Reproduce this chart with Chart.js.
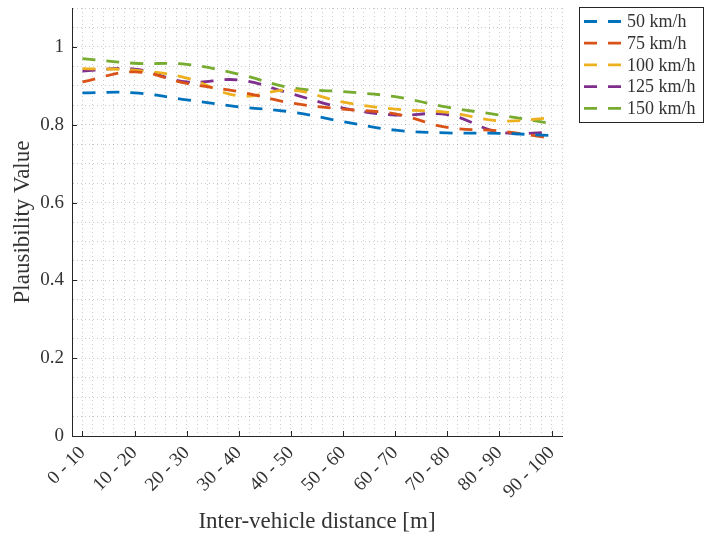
<!DOCTYPE html>
<html>
<head>
<meta charset="utf-8">
<script src="https://cdn.jsdelivr.net/npm/chart.js@4"></script>
<style>
  html, body { margin: 0; padding: 0; background: #fff; }
  #wrap { width: 704px; height: 538px; }
</style>
</head>
<body>
<div id="wrap"><canvas id="c" width="704" height="538"></canvas></div>
<script>
// Distance bins along the x axis
const distanceBins = ['0 - 10', '10 - 20', '20 - 30', '30 - 40', '40 - 50',
                      '50 - 60', '60 - 70', '70 - 80', '80 - 90', '90 - 100'];

// Plausibility per speed
const speed50  = [0.882, 0.882, 0.864, 0.846, 0.833, 0.808, 0.786, 0.779, 0.778, 0.772];
const speed75  = [0.910, 0.936, 0.906, 0.885, 0.856, 0.840, 0.828, 0.793, 0.784, 0.765];
const speed100 = [0.944, 0.940, 0.920, 0.874, 0.889, 0.858, 0.840, 0.832, 0.810, 0.818];
const speed125 = [0.938, 0.943, 0.910, 0.915, 0.880, 0.843, 0.825, 0.826, 0.781, 0.780];
const speed150 = [0.970, 0.958, 0.955, 0.930, 0.895, 0.885, 0.872, 0.845, 0.825, 0.803];

const seriesLabels = ['50 km/h', '75 km/h', '100 km/h', '125 km/h', '150 km/h'];
const seriesColors = ['#0072BD', '#D95319', '#EDB120', '#7E2F8E', '#77AC30'];
const seriesValues = [speed50, speed75, speed100, speed125, speed150];

// Y tick labels shown on the major positions
const yTickLabels = ['0', '0.2', '0.4', '0.6', '0.8', '1'];

const SERIF = '"Liberation Serif", "DejaVu Serif", serif';
const TEXT = '#333333';
const DASH = [13, 11];
const GRID = 'rgba(0,0,0,0.2)';

const datasets = seriesValues.map((vals, i) => ({
  label: seriesLabels[i],
  data: vals.map((v, k) => ({ x: k + 1, y: v })),
  borderColor: seriesColors[i],
  backgroundColor: seriesColors[i],
  borderWidth: 2.8,
  borderDash: DASH,
  borderCapStyle: 'butt',
  pointRadius: 0,
  pointHoverRadius: 0,
  tension: 0.4,
  fill: false
}));

const near = (v, t) => Math.abs(v - t) < 1e-6;

// Short inward tick marks on the two axis lines
const innerTicks = {
  id: 'innerTicks',
  afterDatasetsDraw(chart) {
    const { ctx, chartArea: a, scales: { x, y } } = chart;
    ctx.save();
    ctx.strokeStyle = '#262626';
    ctx.lineWidth = 1;
    ctx.beginPath();
    for (let k = 1; k <= distanceBins.length; k++) {
      const px = Math.round(x.getPixelForValue(k)) + 0.5;
      ctx.moveTo(px, a.bottom);
      ctx.lineTo(px, a.bottom - 5);
    }
    for (let j = 0; j < yTickLabels.length; j++) {
      const py = Math.round(y.getPixelForValue(j * 0.2)) + 0.5;
      ctx.moveTo(a.left, py);
      ctx.lineTo(a.left + 5, py);
    }
    ctx.stroke();
    ctx.restore();
  }
};

// Boxed legend to the right of the axes
const boxLegend = {
  id: 'boxLegend',
  afterDraw(chart) {
    const { ctx } = chart;
    const left = 579.5, top = 7.5, w = 124, h = 115;
    ctx.save();
    ctx.fillStyle = '#fff';
    ctx.fillRect(left, top, w, h);
    ctx.strokeStyle = '#262626';
    ctx.lineWidth = 1;
    ctx.strokeRect(left, top, w, h);
    ctx.font = '18px ' + SERIF;
    ctx.textBaseline = 'middle';
    ctx.textAlign = 'left';
    chart.data.datasets.forEach((ds, i) => {
      const cy = 21.5 + i * 21.7;
      ctx.strokeStyle = ds.borderColor;
      ctx.lineWidth = 2.8;
      ctx.setLineDash(DASH);
      ctx.beginPath();
      ctx.moveTo(584, cy);
      ctx.lineTo(621, cy);
      ctx.stroke();
      ctx.setLineDash([]);
      ctx.fillStyle = TEXT;
      ctx.fillText(ds.label, 627, cy + 1);
    });
    ctx.restore();
  }
};

new Chart(document.getElementById('c'), {
  type: 'line',
  data: { datasets },
  plugins: [innerTicks, boxLegend],
  options: {
    responsive: false,
    animation: false,
    layout: { padding: { top: 8, right: 142, left: 0, bottom: 0 } },
    plugins: { legend: { display: false }, tooltip: { enabled: false } },
    scales: {
      x: {
        type: 'linear',
        min: 0.8,
        max: 10.2,
        afterBuildTicks(scale) {
          const t = [];
          for (let i = 4; i <= 51; i++) t.push({ value: i / 5 });
          scale.ticks = t;
        },
        afterFit(scale) {
          scale.height = 102;
          scale.paddingLeft = 0;
          scale.paddingRight = 0;
        },
        border: { display: true, color: '#262626', width: 1, dash: [1, 3] },
        grid: { color: GRID, lineWidth: 1, drawTicks: false, tickLength: 0 },
        ticks: {
          autoSkip: false,
          minRotation: 45,
          maxRotation: 45,
          padding: 6,
          color: TEXT,
          font: { family: SERIF, size: 19 },
          callback(v) {
            const r = Math.round(v);
            return near(v, r) && r >= 1 && r <= distanceBins.length ? distanceBins[r - 1] : '';
          }
        },
        title: {
          display: true,
          text: 'Inter-vehicle distance [m]',
          color: TEXT,
          font: { family: SERIF, size: 23 },
          padding: { top: 0, bottom: 2 }
        }
      },
      y: {
        min: 0,
        max: 1.1,
        afterBuildTicks(scale) {
          const t = [];
          for (let i = 0; i <= 22; i++) t.push({ value: i / 20 });
          scale.ticks = t;
        },
        afterFit(scale) {
          scale.width = 72;
          scale.paddingTop = 0;
          scale.paddingBottom = 0;
        },
        border: { display: true, color: '#262626', width: 1, dash: [1, 3] },
        grid: { color: GRID, lineWidth: 1, drawTicks: false, tickLength: 0 },
        ticks: {
          autoSkip: false,
          padding: 8,
          color: TEXT,
          font: { family: SERIF, size: 19 },
          callback(v) {
            const j = Math.round(v / 0.2);
            return near(v, j * 0.2) && j < yTickLabels.length ? yTickLabels[j] : '';
          }
        },
        title: {
          display: true,
          text: 'Plausibility Value',
          color: TEXT,
          font: { family: SERIF, size: 23 },
          padding: { top: 9, bottom: 0 }
        }
      }
    }
  }
});
</script>
</body>
</html>
